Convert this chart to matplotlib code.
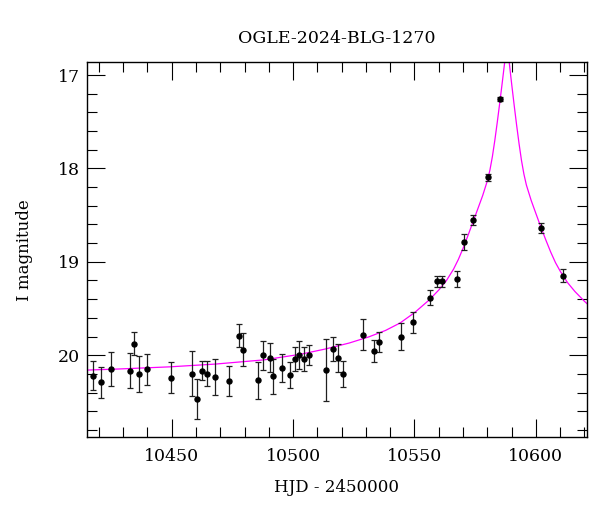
import numpy as np
import matplotlib
matplotlib.use("Agg")
import matplotlib.pyplot as plt
from matplotlib.ticker import MultipleLocator

plt.rcParams['font.family'] = ['DejaVu Serif']
plt.rcParams['font.size'] = 12

# OGLE photometry: HJD - 2450000, I mag, error
hjd = [10417.7, 10420.7, 10424.9, 10432.8, 10434.6, 10436.7, 10439.8, 10449.7,
       10458.5, 10460.4, 10462.6, 10464.7, 10467.8, 10473.6, 10477.6, 10479.5,
       10485.7, 10487.5, 10490.5, 10491.6, 10495.5, 10498.6, 10500.7, 10502.6,
       10504.5, 10506.6, 10513.6, 10516.6, 10518.5, 10520.6, 10528.7, 10533.4,
       10535.4, 10544.5, 10549.4, 10556.4, 10559.4, 10561.4, 10567.5, 10570.3,
       10574.3, 10580.5, 10585.3, 10602.2, 10611.2]
mag = [20.22, 20.29, 20.15, 20.165, 19.876, 20.20, 20.15, 20.24,
       20.20, 20.47, 20.165, 20.20, 20.234, 20.28, 19.79, 19.94,
       20.27, 20.00, 20.026, 20.226, 20.14, 20.215, 20.04, 19.997,
       20.04, 19.997, 20.16, 19.93, 20.026, 20.20, 19.78, 19.958,
       19.855, 19.80, 19.65, 19.383, 19.208, 19.208, 19.18, 18.786,
       18.554, 18.096, 17.257, 18.637, 19.147]
err = [0.155, 0.165, 0.18, 0.19, 0.125, 0.19, 0.165, 0.165,
       0.24, 0.215, 0.105, 0.135, 0.195, 0.16, 0.12, 0.18,
       0.20, 0.155, 0.157, 0.19, 0.15, 0.14, 0.13, 0.15,
       0.125, 0.11, 0.33, 0.13, 0.15, 0.14, 0.165, 0.12,
       0.107, 0.14, 0.11, 0.077, 0.06, 0.06, 0.085, 0.088,
       0.05, 0.036, 0.018, 0.057, 0.073]

# model light curve
model_t = [10414.7, 10428.1, 10449.1, 10468.1, 10488.1, 10503.1, 10513.1,
           10523.1, 10531.1, 10538.1, 10544.1, 10550.1, 10556.1, 10560.1,
           10563.1, 10566.1, 10568.1, 10570.1, 10572.1, 10574.1, 10576.1,
           10578.1, 10580.1, 10581.1, 10582.1, 10583.1, 10584.1, 10585.1,
           10586.1, 10587.1, 10587.6, 10588.1, 10588.6, 10589.1, 10590.1,
           10591.1, 10592.1, 10593.1, 10594.1, 10595.1, 10596.1, 10598.1,
           10600.1, 10602.1, 10604.1, 10606.1, 10608.1, 10610.1, 10613.1,
           10616.1, 10620.1, 10622.1]
model_mag = [20.16, 20.148, 20.125, 20.095, 20.05, 19.99, 19.935,
             19.87, 19.805, 19.735, 19.655, 19.543, 19.408, 19.300,
             19.204, 19.079, 18.974, 18.851, 18.715, 18.574, 18.433,
             18.291, 18.127, 18.016, 17.874, 17.701, 17.509, 17.306,
             17.096, 16.879, 16.78, 16.72, 16.78, 16.879, 17.108,
             17.328, 17.539, 17.737, 17.916, 18.062, 18.177, 18.344,
             18.488, 18.630, 18.765, 18.894, 19.009, 19.103, 19.224,
             19.318, 19.425, 19.472]

fig = plt.figure(figsize=(6, 5.12), dpi=100)
ax = fig.add_axes([0.145, 0.1465, 0.833, 0.7318])

ax.plot(model_t, model_mag, color='#ff00ff', lw=0.9, zorder=2)
ax.errorbar(hjd, mag, yerr=err, fmt='o', color='black', ms=3.6,
            ecolor='#202020', elinewidth=0.9, capsize=2.2, capthick=0.9, zorder=3)

ax.set_xlim(10415.1, 10621.0)
ax.set_ylim(20.876, 16.864)

ax.xaxis.set_major_locator(MultipleLocator(50))
ax.xaxis.set_minor_locator(MultipleLocator(10))
ax.yaxis.set_major_locator(MultipleLocator(1))
ax.yaxis.set_minor_locator(MultipleLocator(0.2))
ax.tick_params(which='both', direction='in', top=True, right=True, width=0.8)
ax.tick_params(which='major', length=13)
ax.tick_params(which='minor', length=7)
ax.tick_params(axis='x', pad=8, labelsize=12.5)
ax.tick_params(axis='y', pad=5, labelsize=12.5)
for s in ax.spines.values():
    s.set_linewidth(1.0)

ax.set_title('OGLE-2024-BLG-1270', pad=14, fontsize=12.5)
ax.set_xlabel('HJD - 2450000', labelpad=10)
ax.set_ylabel('I magnitude', labelpad=18)

fig.savefig('out.png', dpi=100)
